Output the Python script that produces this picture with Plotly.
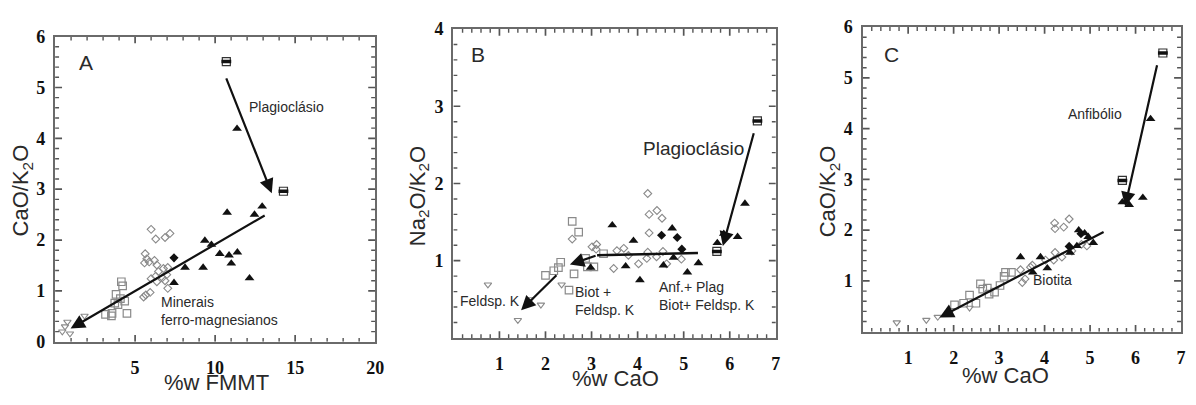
import numpy as np
import plotly.graph_objects as go

# ---------------- Panel A : CaO/K2O vs %w FMMT ----------------
A_tri_open_x = [0.45, 0.62, 0.77, 0.93, 1.84]
A_tri_open_y = [0.20, 0.30, 0.39, 0.16, 0.51]
A_sq_x = [3.15, 3.52, 3.56, 3.73, 3.81, 3.93, 4.08, 4.14, 4.22, 4.35, 4.49]
A_sq_y = [0.54, 0.51, 0.56, 0.76, 0.93, 0.73, 0.85, 1.18, 1.10, 0.80, 0.56]
A_dia_x = [6.00, 6.29, 6.87, 7.18, 5.63, 5.73, 5.59, 5.88, 6.21, 6.36, 6.46, 6.29,
           6.77, 7.04, 6.98, 6.87, 7.04, 6.00, 5.67, 5.53, 5.94, 6.71, 6.36]
A_dia_y = [2.21, 2.02, 2.05, 2.13, 1.73, 1.63, 1.55, 1.57, 1.60, 1.51, 1.38, 1.29,
           1.44, 1.46, 1.32, 1.20, 1.05, 1.24, 0.92, 0.88, 0.97, 1.26, 1.18]
A_dia_fill_x = [7.43]
A_dia_fill_y = [1.65]
A_tri_x = [7.43, 8.12, 9.25, 9.36, 9.77, 10.29, 10.75, 10.87, 11.01, 11.39, 11.37, 12.15, 12.46, 12.94]
A_tri_y = [1.16, 1.46, 1.46, 1.99, 1.91, 1.73, 2.54, 1.70, 1.54, 1.76, 4.19, 1.25, 2.50, 2.66]
A_half_x = [10.70, 14.27]
A_half_y = [5.51, 2.96]

# ---------------- Panel B : Na2O/K2O vs %w CaO ----------------
B_tri_open_x = [0.75, 1.40, 1.67, 1.90, 2.35]
B_tri_open_y = [0.69, 0.23, 0.50, 0.43, 0.69]
B_sq_x = [2.58, 2.72, 2.00, 2.18, 2.28, 2.33, 2.51, 2.62, 2.87, 2.91, 3.05, 3.26]
B_sq_y = [1.51, 1.37, 0.81, 0.87, 0.91, 0.98, 0.62, 0.83, 1.03, 0.92, 0.92, 1.09]
B_dia_x = [2.58, 3.01, 3.11, 3.10, 3.55, 3.48, 3.70, 3.80, 4.02, 4.22, 4.20, 4.41,
           4.55, 4.63, 4.95, 4.22, 4.25, 4.42, 4.53, 4.25]
B_dia_y = [1.28, 1.18, 1.21, 1.15, 1.13, 0.90, 1.16, 1.07, 0.96, 1.11, 1.03, 1.05,
           1.12, 0.96, 1.02, 1.87, 1.60, 1.65, 1.55, 1.36]
B_dia_fill_x = [4.52, 4.86, 4.96]
B_dia_fill_y = [1.33, 1.30, 1.15]
B_tri_x = [3.45, 3.91, 3.74, 4.05, 4.75, 4.56, 4.78, 5.08, 5.73, 5.87, 6.17, 6.33, 2.98, 5.32]
B_tri_y = [1.46, 1.26, 0.93, 0.75, 1.42, 0.94, 1.04, 0.85, 1.23, 1.35, 1.31, 1.74, 0.91, 0.97]
B_half_x = [6.60, 5.72]
B_half_y = [2.81, 1.12]

# ---------------- Panel C : CaO/K2O vs %w CaO ----------------
C_tri_open_x = [0.75, 1.40, 1.65, 2.35]
C_tri_open_y = [0.18, 0.23, 0.29, 0.47]
C_sq_x = [2.02, 2.22, 2.35, 2.49, 2.59, 2.64, 2.74, 2.78, 2.90, 3.02, 3.14, 3.27, 3.11]
C_sq_y = [0.53, 0.56, 0.72, 0.56, 0.94, 0.84, 0.86, 0.74, 0.78, 0.91, 1.17, 1.17, 1.09]
C_dia_x = [3.47, 3.51, 3.57, 3.69, 3.73, 4.02, 4.20, 4.23, 4.38, 4.60, 4.81, 4.93,
           4.22, 4.23, 4.42, 4.54]
C_dia_y = [1.22, 0.97, 1.04, 1.27, 1.31, 1.41, 1.41, 1.56, 1.47, 1.59, 1.72, 1.69,
           2.14, 2.03, 2.06, 2.22]
C_dia_fill_x = [4.54, 4.80]
C_dia_fill_y = [1.68, 1.93]
C_tri_x = [3.47, 3.91, 4.06, 3.74, 4.75, 4.88, 4.96, 5.07, 4.56, 4.71, 6.33, 5.71, 5.86, 6.16]
C_tri_y = [1.47, 1.47, 1.25, 1.17, 2.00, 1.94, 1.87, 1.75, 1.56, 1.69, 4.19, 2.55, 2.50, 2.64]
C_half_x = [6.60, 5.71]
C_half_y = [5.49, 2.98]

# Tick labels per panel
A_xticks = [5, 10, 15, 20]
A_yticks = [0, 1, 2, 3, 4, 5, 6]
B_xticks = [1, 2, 3, 4, 5, 6, 7]
B_yticks = [1, 2, 3, 4]
C_xticks = [1, 2, 3, 4, 5, 6, 7]
C_yticks = [1, 2, 3, 4, 5, 6]

# Trend arrows: (tail_x, tail_y, head_x, head_y)
A_arrows = [(13.19, 2.50, 0.97, 0.26), (10.66, 5.21, 13.54, 2.92)]
B_flat_line_x = [5.31, 3.12]
B_flat_line_y = [1.10, 1.07]
B_arrows = [(6.53, 2.67, 5.85, 1.19), (3.12, 1.07, 2.53, 0.95), (2.27, 0.83, 1.47, 0.36)]
C_arrows = [(5.33, 1.98, 1.69, 0.28), (6.48, 5.28, 5.77, 2.47)]

GREY = "#8a8a8a"
FRAME = "#6a6a6a"
TICK = "#555555"
INK = "#111111"
SANS = "Liberation Sans, Arial, sans-serif"
SERIF = "Liberation Serif"

W, H = 1196, 405
# plot-area pixel boxes: ([left, right], [top, bottom])
dom = {
    1: ([55.5, 378.0], [28.0, 349.0]),
    2: ([456.8, 781.7], [20.0, 345.0]),
    3: ([869.2, 1190.0], [18.0, 338.4]),
}
# axis ranges, tick labels and minor steps per panel
spec = {
    1: dict(xr=[0, 20], xt=A_xticks, xd=5, xm=1, yr=[0, 6], yt=A_yticks, yd=1, ym=0.2),
    2: dict(xr=[0, 7], xt=B_xticks, xd=1, xm=0.2, yr=[0, 4], yt=B_yticks, yd=1, ym=0.2),
    3: dict(xr=[0, 7], xt=C_xticks, xd=1, xm=0.2, yr=[0, 6], yt=C_yticks, yd=1, ym=0.2),
}

fig = go.Figure()


def add_panel(xa, ya, tri_o, sq, dia, dia_f, tri, half):
    kw = dict(xaxis=xa, yaxis=ya, mode="markers", showlegend=False, hoverinfo="skip")
    fig.add_trace(go.Scatter(x=tri_o[0], y=tri_o[1], marker=dict(symbol="triangle-down-open", size=6.5,
                                                                   color=GREY, line=dict(width=1.1)), **kw))
    fig.add_trace(go.Scatter(x=sq[0], y=sq[1], marker=dict(symbol="square-open", size=7.5,
                                                             color=GREY, line=dict(width=1.2)), **kw))
    fig.add_trace(go.Scatter(x=dia[0], y=dia[1], marker=dict(symbol="diamond-open", size=6,
                                                              color=GREY, line=dict(width=1.1)), **kw))
    fig.add_trace(go.Scatter(x=dia_f[0], y=dia_f[1], marker=dict(symbol="diamond", size=7,
                                                                  color=INK, line=dict(width=0)), **kw))
    fig.add_trace(go.Scatter(x=tri[0], y=tri[1], marker=dict(symbol="triangle-up", size=8.5,
                                                              color=INK, line=dict(width=0)), **kw))
    # half-filled squares: outline plus a dark band
    fig.add_trace(go.Scatter(x=half[0], y=half[1], marker=dict(symbol="square-open", size=8,
                                                                color="#333333", line=dict(width=1.2)), **kw))
    fig.add_trace(go.Scatter(x=half[0], y=half[1], marker=dict(symbol="line-ew", size=7,
                                                                color=INK, line=dict(width=3.5, color=INK)), **kw))


def frame_ticks(k, major_len=7, minor_len=4):
    """Inward tick marks on all four sides of panel k."""
    s = "" if k == 1 else str(k)
    sp = spec[k]
    (xl, xrt), (yt, yb) = dom[k]
    x0, x1 = sp["xr"]
    y0, y1 = sp["yr"]
    xppu = (xrt - xl) / (x1 - x0)
    yppu = (yb - yt) / (y1 - y0)

    def positions(lo, hi, step):
        return [round(float(v), 6) for v in np.arange(lo, hi + step / 2, step)][1:-1]

    xmaj = positions(x0, x1, sp["xd"])
    ymaj = positions(y0, y1, sp["yd"])
    xmin = [v for v in positions(x0, x1, sp["xm"]) if all(abs(v - m) > 1e-6 for m in xmaj)]
    ymin = [v for v in positions(y0, y1, sp["ym"]) if all(abs(v - m) > 1e-6 for m in ymaj)]

    for xs_, ys_, L, w in ((xmaj, ymaj, major_len, 1.7), (xmin, ymin, minor_len, 1.4)):
        tx, ty = [], []
        dy = L / yppu
        dx = L / xppu
        for v in xs_:
            tx += [v, v, None, v, v, None]
            ty += [y0, y0 + dy, None, y1, y1 - dy, None]
        for v in ys_:
            tx += [x0, x0 + dx, None, x1, x1 - dx, None]
            ty += [v, v, None, v, v, None]
        fig.add_trace(go.Scatter(x=tx, y=ty, xaxis="x" + s, yaxis="y" + s, mode="lines",
                                 line=dict(color=TICK, width=w), showlegend=False,
                                 hoverinfo="skip", connectgaps=False, cliponaxis=False))


for k in (1, 2, 3):
    frame_ticks(k)

add_panel("x", "y", (A_tri_open_x, A_tri_open_y), (A_sq_x, A_sq_y), (A_dia_x, A_dia_y),
          (A_dia_fill_x, A_dia_fill_y), (A_tri_x, A_tri_y), (A_half_x, A_half_y))
add_panel("x2", "y2", (B_tri_open_x, B_tri_open_y), (B_sq_x, B_sq_y), (B_dia_x, B_dia_y),
          (B_dia_fill_x, B_dia_fill_y), (B_tri_x, B_tri_y), (B_half_x, B_half_y))
add_panel("x3", "y3", (C_tri_open_x, C_tri_open_y), (C_sq_x, C_sq_y), (C_dia_x, C_dia_y),
          (C_dia_fill_x, C_dia_fill_y), (C_tri_x, C_tri_y), (C_half_x, C_half_y))

fig.add_trace(go.Scatter(x=B_flat_line_x, y=B_flat_line_y, xaxis="x2", yaxis="y2", mode="lines",
                         line=dict(color=INK, width=2.4), showlegend=False, hoverinfo="skip"))

annotations = []
for (xr, yr, arrows) in (("x", "y", A_arrows), ("x2", "y2", B_arrows), ("x3", "y3", C_arrows)):
    for (tx, ty, hx, hy) in arrows:
        annotations.append(dict(x=hx, y=hy, ax=tx, ay=ty, xref=xr, yref=yr, axref=xr, ayref=yr,
                                text="", showarrow=True, arrowhead=2, arrowsize=1.3,
                                arrowwidth=2.2, arrowcolor=INK, standoff=0))


def label(text, x, y, xr, yr, size=14, xanchor="center", align="center"):
    annotations.append(dict(text=text, x=x, y=y, xref=xr, yref=yr, showarrow=False,
                            xanchor=xanchor, yanchor="middle", align=align,
                            font=dict(family=SANS, size=size, color="#2a2a2a")))


label("A", 1.93, 5.49, "x", "y", size=21)
label("B", 0.54, 3.67, "x2", "y2", size=21)
label("C", 0.64, 5.46, "x3", "y3", size=21)

label("Plagioclásio", 11.99, 4.62, "x", "y", xanchor="left")
label("Minerais<br>ferro-magnesianos", 6.52, 0.60, "x", "y", xanchor="left", align="left")
label("Plagioclásio", 5.22, 2.45, "x2", "y2", size=19)
label("Feldsp. K", 0.79, 0.48, "x2", "y2")
label("Biot +<br>Feldsp. K", 2.60, 0.48, "x2", "y2", xanchor="left", align="left")
label("Anf.+ Plag<br>Biot+ Feldsp. K", 4.43, 0.54, "x2", "y2", xanchor="left", align="left")
label("Anfibólio", 5.10, 4.28, "x3", "y3")
label("Biotita", 4.18, 1.02, "x3", "y3")


def xdom(p):
    return [p[0] / W, p[1] / W]


def ydom(p):
    return [1 - p[1] / H, 1 - p[0] / H]


def title(text, px, py, rot=0):
    annotations.append(dict(text=text, x=px / W, y=1 - py / H, xref="paper", yref="paper",
                            showarrow=False, xanchor="center", yanchor="middle", textangle=rot,
                            font=dict(family=SANS, size=22, color="#2a2a2a")))


title("%w FMMT", 218, 392)
title("%w CaO", 620, 388)
title("%w CaO", 1013, 385)
title("CaO/K<sub>2</sub>O", 22, 190, -90)
title("Na<sub>2</sub>O/K<sub>2</sub>O", 422, 196, -90)
title("CaO/K<sub>2</sub>O", 835, 191, -90)


def axis(domain, rng, ticks, anchor, is_x):
    suffix = "" if is_x else "\u00a0"
    ax = dict(domain=domain, range=rng, anchor=anchor, tickmode="array",
              tickvals=ticks, ticktext=[str(t) + suffix for t in ticks],
              showline=True, linecolor=FRAME, linewidth=1.5, mirror=True, ticks="",
              showgrid=False, zeroline=False,
              tickfont=dict(family=SERIF, size=18, color="#111111", weight="bold"))
    if is_x:
        ax["ticklabelstandoff"] = 9
    return ax


axes = {}
for k, sp in spec.items():
    s = "" if k == 1 else str(k)
    axes["xaxis" + s] = axis(xdom(dom[k][0]), sp["xr"], sp["xt"], "y" + s, True)
    axes["yaxis" + s] = axis(ydom(dom[k][1]), sp["yr"], sp["yt"], "x" + s, False)

fig.update_layout(
    width=W, height=H, margin=dict(l=0, r=0, t=0, b=0),
    paper_bgcolor="white", plot_bgcolor="white", showlegend=False,
    annotations=annotations, **axes,
)

fig.write_html("out.html")
